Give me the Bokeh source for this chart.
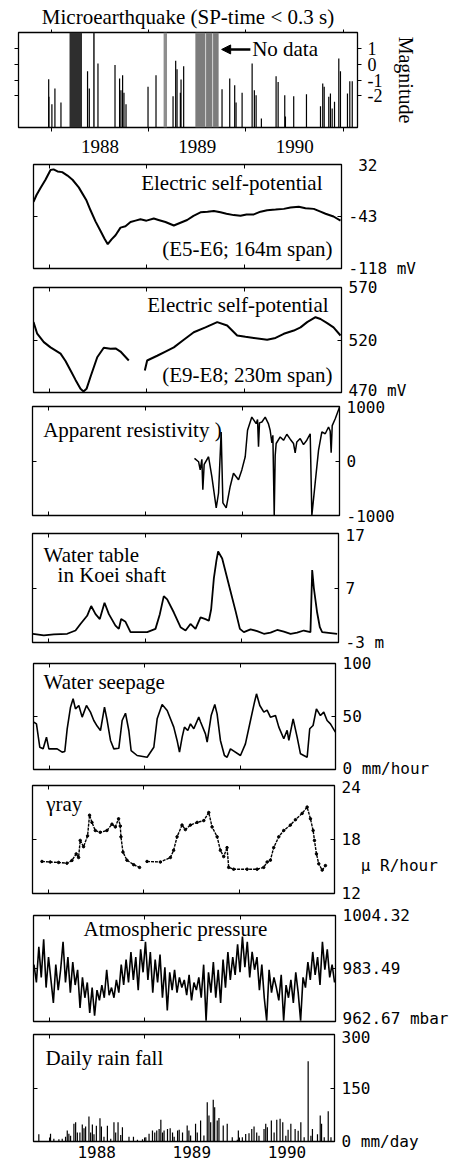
import numpy as np
from bokeh.plotting import figure
from bokeh.layouts import column, row
from bokeh.models import Range1d, LinearAxis, FixedTicker, Label, Arrow, NormalHead
from bokeh.embed import file_html
from bokeh.resources import INLINE

NAN = float("nan")
SERIF = "Liberation Serif"
MONO = "DejaVu Sans Mono"

# ---------------- data ----------------
year_edges = [1988, 1989, 1990, 1991]
year_mid = [1988.5, 1989.5, 1990.5]
year_labels = ["1988", "1989", "1990"]

# Microearthquakes (decimal year, magnitude)
quake_t = [1987.974, 1987.976, 1988.007, 1988.038, 1988.100, 1988.373, 1988.391, 1988.480, 1988.655, 1988.702,
           1988.716, 1988.733, 1988.747, 1988.768, 1988.994, 1989.076, 1989.251, 1989.278, 1989.292, 1989.326,
           1989.333, 1989.360, 1989.754, 1989.833, 1989.884, 1989.898, 1989.960, 1990.063, 1990.086, 1990.104,
           1990.158, 1990.309, 1990.330, 1990.398, 1990.405, 1990.490, 1990.621, 1990.765, 1990.788, 1990.803,
           1990.850, 1990.867, 1990.885, 1990.909, 1990.953, 1990.970, 1991.042, 1991.066, 1991.091]
quake_m = [-0.95, -2.06, -2.53, -1.54, -2.42, -0.44, -1.54, 0.04, -0.06, -0.9,
           -1.64, -0.7, -1.81, -2.53, -1.43, -0.7, -2.02, 0.21, -0.32, -1.81,
           -0.97, -0.13, -1.58, -0.9, -1.33, -2.42, -1.81, 0.04, -1.64, -1.96,
           -3.43, -0.76, -1.12, -1.96, -3.3, -2.02, -1.9, -2.65, -1.22, -1.43,
           -2.06, -1.85, -2.8, -2.38, 0.36, -0.44, -1.85, -1.08, -1.08]
nodata_start = [1988.188, 1988.430, 1989.154, 1989.480, 1989.590, 1989.662]
nodata_end = [1988.316, 1988.447, 1989.189, 1989.583, 1989.655, 1989.719]

# Electric self-potential E5-E6 (mV)
sp1_t = [1987.835, 1987.866, 1987.907, 1987.958, 1988.010, 1988.041, 1988.082, 1988.130, 1988.184, 1988.236,
         1988.300, 1988.338, 1988.380, 1988.421, 1988.472, 1988.524, 1988.565, 1988.598, 1988.637, 1988.678,
         1988.729, 1988.780, 1988.832, 1988.883, 1988.934, 1988.996, 1989.071, 1989.119, 1989.191, 1989.277,
         1989.345, 1989.414, 1989.479, 1989.551, 1989.623, 1989.688, 1989.757, 1989.818, 1989.893, 1989.962,
         1990.024, 1990.099, 1990.168, 1990.236, 1990.322, 1990.407, 1990.476, 1990.561, 1990.630, 1990.715,
         1990.784, 1990.836, 1990.918, 1990.990]
sp1_v = [-22, -12, -2, 10, 24, 25, 22, 21, 16, 10,
         -1, -10, -20, -34, -50, -64, -75, -83, -76, -70,
         -59, -57, -51, -49, -47, -49, -46, -48, -51, -56,
         -52, -48, -42, -37, -36, -35, -37, -39, -41, -42,
         -40, -40, -36, -34, -33, -32, -30, -29, -31, -32,
         -36, -39, -43, -49]

# Electric self-potential E9-E8 (mV)
sp2_t = [1987.835, 1987.873, 1987.941, 1988.010, 1988.113, 1988.164, 1988.216, 1988.267, 1988.318, 1988.349,
         1988.380, 1988.421, 1988.490, 1988.557, 1988.626, 1988.678, 1988.729, 1988.814, NAN, 1988.979,
         1989.003, 1989.106, 1989.191, 1989.277, 1989.376, 1989.482, 1989.602, 1989.723, 1989.825, 1989.928,
         1990.013, 1990.099, 1990.236, 1990.322, 1990.407, 1990.510, 1990.579, 1990.647, 1990.733, 1990.784,
         1990.853, 1990.918, 1990.990]
sp2_v = [537, 526, 518, 513, 507, 500, 491, 482, 473.5, 471,
         473.5, 485, 503.6, 512.6, 511.6, 512, 509, 500.5, NAN, 491,
         500.5, 505, 509, 513, 520, 527.4, 532, 537, 533.8, 524.3,
         523, 522, 520.2, 522, 525.9, 529, 532, 537, 541.7, 540,
         536, 532, 524.3]

# Apparent resistivity
res_t = [1989.505, 1989.547, 1989.564, 1989.581, 1989.591, 1989.605, 1989.650, 1989.684, 1989.729, 1989.753,
         1989.780, 1989.798, 1989.832, 1989.873, 1989.907, 1989.959, 1989.993, 1990.028, 1990.052, 1990.096,
         1990.141, 1990.155, 1990.165, 1990.175, 1990.200, 1990.234, 1990.268, 1990.285, 1990.303, 1990.313,
         1990.327, 1990.337, 1990.347, 1990.389, 1990.423, 1990.457, 1990.492, 1990.526, 1990.543, 1990.560,
         1990.595, 1990.629, 1990.663, 1990.698, 1990.715, 1990.749, 1990.784, 1990.818, 1990.853, 1990.887,
         1990.904, 1990.914, 1990.925, 1990.956, 1991.000]
res_v = [49, -13, -164, 30, -527, -60, 78, -285, -860, -587,
         533, -769, -860, -467, -224, -345, -164, 78, 564, 806,
         685, 760, 260, 700, 715, 806, 680, 564, 330, 470,
         -1000, 100, 321, 442, 380, 491, 400, 321, 150, 350,
         412, 300, 382, 500, -1000, -406, 200, 533, 500, 624,
         550, 150, 650, 776, 988]

# Water table in Koei shaft (m)
wt_t = [1987.840, 1987.952, 1988.056, 1988.194, 1988.280, 1988.331, 1988.400, 1988.442, 1988.487, 1988.531,
        1988.580, 1988.625, 1988.693, 1988.728, 1988.752, 1988.797, 1988.849, 1989.021, 1989.107, 1989.152,
        1989.193, 1989.228, 1989.297, 1989.366, 1989.418, 1989.469, 1989.521, 1989.573, 1989.624, 1989.659,
        1989.683, 1989.711, 1989.738, 1989.755, 1989.797, 1989.883, 1989.935, 1989.980, 1990.021, 1990.090,
        1990.159, 1990.228, 1990.297, 1990.366, 1990.435, 1990.504, 1990.572, 1990.641, 1990.710, 1990.728,
        1990.745, 1990.779, 1990.807, 1990.831, 1990.986]
wt_v = [-1.4, -1.7, -1.5, -1.4, -0.8, 0.4, 1.9, 3.7, 2.2, 1.3,
        4.3, 2.2, 0.1, -0.5, 1.3, 0.8, -1.1, -1.1, -0.5, 2.2,
        5.5, 4.9, 2.5, -0.2, -0.8, 0.4, -0.5, 1.6, 1.3, 1.0,
        3.1, 8.8, 12.1, 13.7, 12.4, 6.4, 2.8, -0.5, -1.1, -0.6,
        -0.9, -1.4, -1.2, -0.7, -1.0, -1.4, -1.2, -0.8, -1.1, 10.3,
        7.0, 2.5, -0.2, -1.1, -1.4]

# Water seepage (mm/hour)
see_t = [1987.838, 1987.866, 1987.901, 1987.936, 1987.971, 1987.996, 1988.083, 1988.135, 1988.163, 1988.188,
         1988.223, 1988.250, 1988.275, 1988.310, 1988.345, 1988.390, 1988.432, 1988.467, 1988.502, 1988.537,
         1988.579, 1988.607, 1988.642, 1988.677, 1988.729, 1988.764, 1988.799, 1988.834, 1988.858, 1988.921,
         1989.026, 1989.096, 1989.131, 1989.183, 1989.236, 1989.305, 1989.340, 1989.365, 1989.393, 1989.417,
         1989.452, 1989.480, 1989.515, 1989.567, 1989.585, 1989.637, 1989.655, 1989.697, 1989.735, 1989.759,
         1989.794, 1989.836, 1989.864, 1989.899, 1990.004, 1990.056, 1990.109, 1990.151, 1990.172, 1990.207,
         1990.249, 1990.283, 1990.318, 1990.371, 1990.406, 1990.458, 1990.493, 1990.511, 1990.556, 1990.598,
         1990.633, 1990.703, 1990.730, 1990.765, 1990.800, 1990.842, 1990.877, 1990.912, 1990.947, 1990.999]
see_v = [44.7, 43, 21, 19.5, 30.5, 19.5, 19.5, 16.4, 17, 38.4,
         58.8, 66.7, 57.2, 60.4, 49.4, 60.4, 54.1, 46.2, 41, 36.8,
         58.8, 46.2, 27.4, 19.5, 20, 46.2, 53.1, 36.8, 17.9, 13.2,
         11.6, 21, 47.8, 61.3, 55.7, 40, 27.4, 16.4, 30.5, 40,
         36.8, 43, 38.4, 49.4, 45, 33.6, 25.8, 50.9, 61.3, 52.5,
         27.4, 13.2, 11.6, 19.5, 13.2, 24.2, 46.2, 63.5, 71.4, 60.4,
         54.1, 56, 49.4, 51, 40, 29, 37, 27.4, 47.8, 30.5,
         14.8, 11.6, 38.4, 41.5, 57.2, 50.9, 54.1, 46.2, 43, 35.2]

# gamma ray (micro R/hour)
gam_t = [1987.934, 1988.021, 1988.108, 1988.196, 1988.248, 1988.293, 1988.318, 1988.335, 1988.370, 1988.412,
         1988.433, 1988.458, 1988.493, 1988.545, 1988.615, 1988.668, 1988.703, 1988.737, 1988.755, 1988.762,
         1988.783, 1988.825, 1988.895, 1988.957, NAN, 1989.035, 1989.175, 1989.280, 1989.314, 1989.350,
         1989.402, 1989.437, 1989.490, 1989.560, 1989.630, 1989.682, 1989.717, 1989.770, 1989.804, 1989.839,
         1989.874, 1989.891, 1989.943, 1990.084, 1990.189, 1990.258, 1990.294, 1990.328, 1990.363, 1990.416,
         1990.468, 1990.538, 1990.591, 1990.661, 1990.713, 1990.748, 1990.776, 1990.790, 1990.811, 1990.835,
         1990.871, 1990.905]
gam_v = [15.56, 15.5, 15.45, 15.37, 15.67, 16.4, 16.0, 17.9, 17.2, 18.4,
         20.7, 19.9, 19.0, 18.8, 19.0, 19.7, 19.4, 20.3, 19.5, 18.3,
         16.6, 15.7, 15.2, 14.9, NAN, 15.56, 15.5, 16.0, 16.8, 18.3,
         19.6, 19.1, 19.6, 19.9, 20.1, 21.0, 19.4, 18.3, 16.8, 16.1,
         17.1, 14.9, 14.7, 14.7, 14.7, 14.9, 15.5, 15.7, 17.1, 18.3,
         19.0, 19.6, 20.2, 20.9, 21.6, 20.3, 19.0, 17.9, 16.4, 15.3,
         14.6, 15.1]

# Atmospheric pressure (mbar), roughly every 9 days from Nov 1987
pres_start, pres_end = 1987.84, 1990.99
pres_v = [985, 978, 992, 980, 995, 976, 988,
          979, 970, 985, 975, 983,
          994, 978, 988, 974, 986, 977,
          983, 968, 980, 972, 978, 966, 976, 965,
          975, 971, 977, 972, 983, 973, 976, 972,
          979, 974, 985, 977, 987, 978,
          990, 979, 988, 975, 991,
          982, 994, 979, 990, 974, 987,
          978, 989, 972, 984, 967, 982, 975,
          983, 974, 980, 976,
          979, 973, 981, 971, 978, 975, 980, 972,
          985, 963, 982, 974, 986, 972, 983, 970,
          987, 976, 990, 979, 988, 981,
          993, 982, 996, 984, 994, 980, 990, 983,
          988, 975, 985, 972, 963, 983, 974, 980,
          976, 971, 981, 963, 977, 972, 979, 970,
          982, 974, 963, 980, 976, 986,
          979, 990, 981, 988, 977, 994, 983, 991,
          980, 985, 978]

# Daily rain fall (mm/day)
rain_t = [1987.891, 1988.014, 1988.049, 1988.102, 1988.137, 1988.172, 1988.190, 1988.207, 1988.225, 1988.260,
          1988.278, 1988.296, 1988.323, 1988.348, 1988.366, 1988.383, 1988.418, 1988.436, 1988.454, 1988.471,
          1988.496, 1988.534, 1988.549, 1988.576, 1988.612, 1988.647, 1988.681, 1988.699, 1988.724, 1988.752,
          1988.770, 1988.839, 1988.886, 1988.928, 1988.981, 1989.016, 1989.050, 1989.086, 1989.110, 1989.131,
          1989.156, 1989.174, 1989.192, 1989.208, 1989.244, 1989.272, 1989.297, 1989.314, 1989.350, 1989.367,
          1989.402, 1989.451, 1989.469, 1989.487, 1989.539, 1989.557, 1989.592, 1989.627, 1989.662, 1989.680,
          1989.698, 1989.725, 1989.740, 1989.767, 1989.785, 1989.830, 1989.872, 1989.925, 1989.978, 1989.989,
          1990.031, 1990.066, 1990.101, 1990.130, 1990.154, 1990.182, 1990.206, 1990.259, 1990.277, 1990.294,
          1990.336, 1990.365, 1990.393, 1990.428, 1990.456, 1990.488, 1990.512, 1990.541, 1990.586, 1990.618,
          1990.646, 1990.681, 1990.723, 1990.752, 1990.768, 1990.821, 1990.850, 1990.864, 1990.892, 1990.934,
          1990.963]
rain_v = [20, 22, 8, 6, 8, 13, 31, 22, 16, 50,
          54, 25, 25, 48, 37, 42, 70, 25, 48, 20,
          44, 65, 42, 13, 44, 8, 54, 25, 54, 18,
          40, 13, 13, 5, 6, 12, 22, 31, 25, 31,
          35, 61, 25, 31, 35, 37, 25, 13, 31, 33,
          25, 45, 31, 17, 50, 25, 59, 17, 110, 73,
          54, 117, 96, 59, 66, 45, 50, 12, 5, 31,
          12, 21, 23, 35, 42, 25, 16, 35, 50, 40,
          59, 25, 61, 64, 54, 16, 33, 50, 35, 30,
          54, 12, 225, 16, 35, 20, 73, 50, 12, 85,
          12]

# ---------------- helpers ----------------
FIG_W = 455
X_LOW = (1987.835, 1991.0)
TXT = "21px"
MONO_SIZE = "16px"


def make_fig(h, left, right, top, bottom, xr, yr, title=None):
    kw = dict(width=FIG_W, height=h, x_range=Range1d(*xr), y_range=Range1d(*yr),
              x_axis_type=None, y_axis_type=None, output_backend="svg",
              toolbar_location=None, min_border_left=left, min_border_right=FIG_W - right,
              min_border_top=top, min_border_bottom=bottom)
    if title:
        kw["title"] = title
    p = figure(**kw)
    p.outline_line_color = "black"
    p.outline_line_width = 1.3
    p.background_fill_color = "white"
    p.border_fill_color = "white"
    return p


def tick_axis(ticks, tin=4, tout=0):
    return LinearAxis(ticker=FixedTicker(ticks=ticks), major_label_overrides={t: "" for t in ticks},
                      axis_line_color=None, major_tick_in=tin, major_tick_out=tout,
                      minor_tick_line_color=None, major_label_standoff=0,
                      major_label_text_font_size="1px")


def value_axis(ticks, labels, standoff=7, font=MONO, size=MONO_SIZE, tin=4, tout=0):
    return LinearAxis(ticker=FixedTicker(ticks=ticks), major_label_overrides=dict(zip(ticks, labels)),
                      axis_line_color=None, major_tick_in=tin, major_tick_out=tout,
                      minor_tick_line_color=None, major_label_standoff=standoff,
                      major_label_text_font=font, major_label_text_font_size=size,
                      major_label_text_color="black")


def year_axis(font, size, standoff, tin, tout):
    return LinearAxis(ticker=FixedTicker(ticks=year_mid, minor_ticks=year_edges),
                      major_label_overrides=dict(zip(year_mid, year_labels)),
                      axis_line_color=None, major_tick_in=0, major_tick_out=0,
                      minor_tick_in=tin, minor_tick_out=tout, minor_tick_line_color="black",
                      major_label_standoff=standoff, major_label_text_font=font,
                      major_label_text_font_size=size, major_label_text_color="black")


def lower_panel(h, left, right, top, bottom, yr, labels, mid, right_axis=True):
    p = make_fig(h, left, right, top, bottom, X_LOW, yr)
    p.add_layout(tick_axis(year_edges[:3]), "above")
    p.add_layout(tick_axis([mid]), "left")
    if right_axis:
        p.add_layout(value_axis([yr[0], mid, yr[1]], labels), "right")
    return p


def panel_text(p, x, y, text, align="left", size=TXT):
    p.add_layout(Label(x=x, y=y, text=text, text_font=SERIF, text_font_size=size,
                       text_align=align, text_baseline="middle", text_color="black"))


# ---------------- panel 1: microearthquakes ----------------
p1 = make_fig(155, 18, 357, 32, 28, (1987.664, 1991.145), (-4, 2),
              title="Microearthquake (SP-time < 0.3 s)")
p1.title.text_font = SERIF
p1.title.text_font_size = TXT
p1.title.text_font_style = "normal"
p1.title.text_color = "black"
p1.title.align = "center"
p1.title.standoff = 1
band_colors = ["#2e2e2e", "#2e2e2e", "#8e8e8e", "#7c7c7c", "#7c7c7c", "#7c7c7c"]
p1.quad(left=nodata_start, right=nodata_end, bottom=-4, top=2, fill_color=band_colors,
        line_color=None)
p1.segment(x0=quake_t, y0=[-4] * len(quake_t), x1=quake_t, y1=quake_m, line_color="black",
           line_width=1.2)
p1.add_layout(Arrow(end=NormalHead(size=9, fill_color="black", line_color="black"),
                    x_start=1990.045, y_start=0.93, x_end=1989.75, y_end=0.93,
                    line_width=2.5, line_color="black"))
p1.add_layout(Label(x=1990.063, y=0.93, text="No data", text_font=SERIF, text_font_size=TXT,
                    text_baseline="middle", text_align="left", text_color="black"))
mag_ticks = [1, 0, -1, -2]
ax = value_axis(mag_ticks, ["1", "0", "-1", "-2"], standoff=6, font=SERIF, size="18px", tin=0, tout=4)
ax.axis_label = "Magnitude"
ax.axis_label_text_font = SERIF
ax.axis_label_text_font_size = "20px"
ax.axis_label_text_font_style = "normal"
ax.axis_label_text_color = "black"
ax.axis_label_standoff = 10
ax.axis_label_orientation = "vertical"
p1.add_layout(ax, "right")
p1.add_layout(tick_axis(mag_ticks, tin=0, tout=4), "left")
p1.add_layout(tick_axis(year_edges, tin=0, tout=3), "above")
p1.add_layout(year_axis(SERIF, "19px", 8, 0, 4), "below")

# ---------------- panel 2: SP E5-E6 ----------------
p2 = lower_panel(122, 33, 341, 9, 9, (-118, 32), ["-118 mV", "-43", "\u00a032"], -43)
p2.add_layout(tick_axis(year_edges[:3]), "below")
p2.line(sp1_t, sp1_v, line_color="black", line_width=2)
panel_text(p2, 1990.805, 4.6, "Electric self-potential", align="right")
panel_text(p2, 1990.908, -89.2, "(E5-E6; 164m span)", align="right")

# ---------------- panel 3: SP E9-E8 ----------------
p3 = lower_panel(122, 33, 341, 10, 7, (470, 570), ["470 mV", "520", "570"], 520)
p3.add_layout(tick_axis(year_edges[:3]), "below")
p3.line(sp2_t, sp2_v, line_color="black", line_width=2)
panel_text(p3, 1990.867, 552.9, "Electric self-potential", align="right")
panel_text(p3, 1990.908, 486.2, "(E9-E8; 230m span)", align="right")

# ---------------- panel 4: resistivity ----------------
p4 = lower_panel(126, 32, 339, 7, 10, (-1000, 1000), ["-1000", "0", "1000"], 0)
p4.add_layout(tick_axis(year_edges[:3]), "below")
p4.line(res_t, res_v, line_color="black", line_width=1.5)
panel_text(p4, 1987.945, 564, "Apparent resistivity )")

# ---------------- panel 5: water table ----------------
p5 = lower_panel(126, 32, 338, 8, 9, (-3, 17), ["-3 m", "7", "17"], 7)
p5.add_layout(tick_axis(year_edges[:3]), "below")
p5.line(wt_t, wt_v, line_color="black", line_width=1.8)
panel_text(p5, 1987.949, 13.04, "Water table")
panel_text(p5, 1988.094, 9.43, "in Koei shaft")

# ---------------- panel 6: water seepage ----------------
p6 = lower_panel(126, 33, 335, 12, 8, (0, 100), ["0 mm/hour", "50", "100"], 50)
p6.add_layout(tick_axis(year_edges[:3]), "below")
p6.line(see_t, see_v, line_color="black", line_width=1.6)
panel_text(p6, 1987.940, 82.1, "Water seepage")

# ---------------- panel 7: gamma ray ----------------
p7 = lower_panel(126, 32, 334, 8, 10, (12, 24), None, 18, right_axis=False)
p7.add_layout(tick_axis([18]), "right")
g_ticks = [12, 15.1, 18, 24]
p7.add_layout(value_axis(g_ticks, ["12", "\u00a0\u00a0\u03bc R/hour", "18", "24"], tin=0), "right")
p7.add_layout(tick_axis(year_edges[:3]), "below")
p7.line(gam_t, gam_v, line_color="black", line_width=1.4, line_dash="3 1")
p7.scatter(gam_t, gam_v, size=2.5, color="black")
panel_text(p7, 1987.979, 22.0, "\u03b3ray")

# ---------------- panel 8: pressure ----------------
p8 = lower_panel(124, 33, 335, 12, 6, (962.67, 1004.32), ["962.67 mbar", "983.49", "1004.32"], 983.49)
p8.add_layout(tick_axis(year_edges[:3]), "below")
pres_t = np.linspace(pres_start, pres_end, len(pres_v))
p8.line(pres_t, pres_v, line_color="black", line_width=1.6)
panel_text(p8, 1988.359, 999.2, "Atmospheric pressure")

# ---------------- panel 9: rain ----------------
p9 = lower_panel(136, 33, 334, 7, 22, (0, 300), ["0 mm/day", "150", "300"], 150)
p9.add_layout(year_axis(MONO, "16px", 4, 4, 0), "below")
p9.segment(x0=rain_t, y0=[0] * len(rain_t), x1=rain_t, y1=rain_v, line_color="black", line_width=1.2)
panel_text(p9, 1987.961, 235.5, "Daily rain fall")

figs = [p1, p2, p3, p4, p5, p6, p7, p8, p9]
layout = column(*[row(f) for f in figs], spacing=0)
open("out.html", "w").write(file_html(layout, INLINE))
